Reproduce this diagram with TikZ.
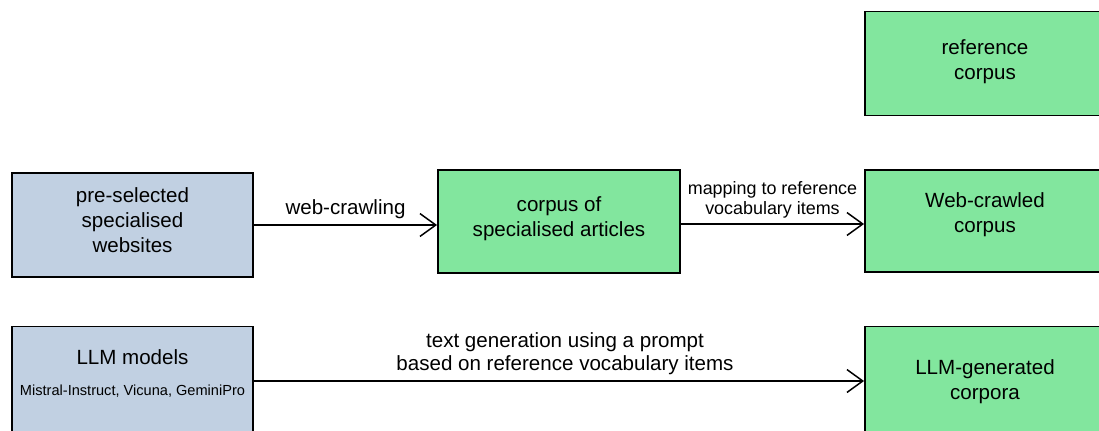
\documentclass[tikz,border=0pt]{standalone}
\usepackage{fontspec}
\setmainfont{Liberation Sans}
\usetikzlibrary{arrows.meta}
\definecolor{siteblue}{RGB}{193,208,226}
\definecolor{corpgreen}{RGB}{130,230,158}

\begin{document}
\begin{tikzpicture}[x=0.02cm,y=-0.02cm,
        srcbox/.style={draw, line width=1.1pt, fill=siteblue, minimum width=4.82cm,
            minimum height=2.08cm, inner sep=0pt, align=center,
            font=\fontsize{11.7}{14}\selectfont},
        corpbox/.style={srcbox, fill=corpgreen, minimum width=4.8cm},
        flow/.style={-{Straight Barb[length=9pt,width=13pt]}, line width=0.85pt},
        flowtext/.style={align=center, font=\fontsize{11.7}{13}\selectfont}]
        \clip (0,0) rectangle (1099,430);

        \node[corpbox, text depth=4.8pt] (ref) at (985,63.5) {reference\\corpus};
        \node[srcbox, text depth=5.7pt] (sites) at (132.5,225) {pre-selected\\specialised\\websites};
        \node[corpbox, minimum width=4.84cm, minimum height=2.06cm, text depth=5.3pt] (articles) at (559,221.5) {corpus of\\specialised articles};
        \node[corpbox, minimum height=2.04cm, text depth=9.3pt] (crawled) at (985,221) {Web-crawled\\corpus};
        \node[srcbox, minimum height=2.3cm, text depth=12.6pt] (llm) at (132.5,384) {LLM models\\[3.6pt]{\fontsize{8.3}{10}\selectfont Mistral-Instruct, Vicuna, GeminiPro}};
        \node[corpbox, minimum height=2.3cm, text depth=4.8pt] (gen) at (985,384) {LLM-generated\\corpora};

        \draw[flow] (sites.east) -- (sites.east -| articles.west)
            node[midway, above, yshift=-0.3pt, flowtext] {web-crawling};
        \draw[flow] ([yshift=-0.05cm]articles.east) -- ([yshift=-0.05cm]articles.east -| crawled.west)
            node[midway, above, yshift=-0.4pt, align=center, font=\fontsize{10.2}{11.4}\selectfont] {mapping to reference\\vocabulary items};
        \draw[flow] ([yshift=0.06cm]llm.east) -- ([yshift=0.06cm]llm.east -| gen.west)
            node[midway, above, yshift=-0.3pt, xshift=0.12cm, flowtext] {text generation using a prompt\\based on reference vocabulary items};
\end{tikzpicture}
\end{document}
